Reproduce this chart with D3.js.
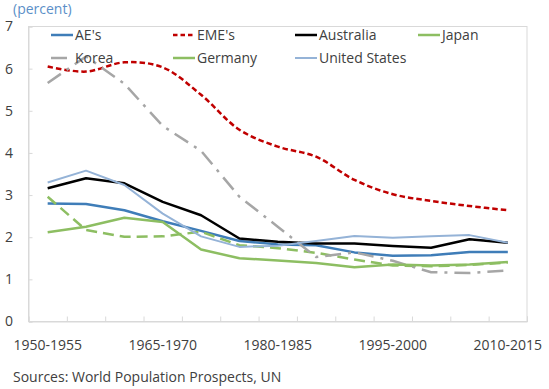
<!DOCTYPE html>
<html>
<head>
<meta charset="utf-8">
<script src="https://cdn.jsdelivr.net/npm/d3@7/dist/d3.min.js"></script>
<style>
  html, body { margin: 0; padding: 0; background: #fff; }
  svg { display: block; }
  text { font-family: "Open Sans", "Noto Sans", sans-serif; }
</style>
</head>
<body>
<svg id="chart" width="549" height="389"></svg>
<script>
// Five-year periods (UN World Population Prospects)
const periods = ["1950-1955", "1955-1960", "1960-1965", "1965-1970", "1970-1975",
  "1975-1980", "1980-1985", "1985-1990", "1990-1995", "1995-2000",
  "2000-2005", "2005-2010", "2010-2015"];
const labeledPeriods = ["1950-1955", "1965-1970", "1980-1985", "1995-2000", "2010-2015"];
const yTicks = [0, 1, 2, 3, 4, 5, 6, 7];

// Total fertility rate, percent
const aes       = [2.80, 2.79, 2.64, 2.38, 2.15, 1.91, 1.83, 1.81, 1.64, 1.56, 1.57, 1.65, 1.65];
const emes      = [6.05, 5.93, 6.15, 6.03, 5.38, 4.55, 4.15, 3.91, 3.36, 3.02, 2.86, 2.74, 2.64];
const australia = [3.16, 3.40, 3.28, 2.84, 2.52, 1.97, 1.89, 1.85, 1.85, 1.79, 1.75, 1.95, 1.87];
const japan     = [2.96, 2.17, 2.01, 2.02, 2.13, 1.81, 1.74, 1.63, 1.47, 1.33, 1.31, 1.34, 1.40];
const korea     = [5.66, 6.29, 5.64, 4.64, 4.05, 2.96, 2.25, 1.53, 1.64, 1.44, 1.17, 1.15, 1.21];
const germany   = [2.12, 2.25, 2.46, 2.36, 1.71, 1.50, 1.45, 1.39, 1.29, 1.35, 1.33, 1.35, 1.41];
const usa       = [3.30, 3.58, 3.24, 2.56, 2.02, 1.77, 1.80, 1.91, 2.03, 1.99, 2.02, 2.05, 1.87];

const seriesNames = ["AE's", "EME's", "Australia", "Japan", "Korea", "Germany", "United States"];
const seriesValues = [aes, emes, australia, japan, korea, germany, usa];

const styles = {
  "AE's":          { color: "#3F7DB8", width: 2.5, dash: null, legendDash: null, smooth: false },
  "EME's":         { color: "#C00000", width: 2.5, dash: "5.5,3", legendDash: "4.5,3", smooth: true },
  "Australia":     { color: "#000000", width: 2.5, dash: null, legendDash: null, smooth: false },
  "Japan":         { color: "#8DBE62", width: 2.5, dash: "11,6", legendDash: null, smooth: false },
  "Korea":         { color: "#A6A6A6", width: 2.5, dash: "16,7,3,7", legendDash: "16,7,3,7", smooth: false },
  "Germany":       { color: "#8DBE62", width: 2.5, dash: null, legendDash: null, smooth: false },
  "United States": { color: "#95B3D7", width: 2, dash: null, legendDash: null, smooth: false }
};

const svg = d3.select("#chart");
const plot = { left: 28.5, right: 527, top: 26.5, bottom: 321.5 };

const x = d3.scaleBand().domain(periods).range([plot.left, plot.right]);
const y = d3.scaleLinear().domain([0, 7]).range([plot.bottom, plot.top]);
const cx = p => x(p) + x.bandwidth() / 2;

const gridColor = "#D9D9D9";
const textColor = "#404040";

// Plot-area frame
svg.append("rect")
  .attr("x", plot.left).attr("y", plot.top)
  .attr("width", plot.right - plot.left).attr("height", plot.bottom - plot.top)
  .attr("fill", "none").attr("stroke", gridColor).attr("stroke-width", 1);

// Y axis: inner ticks, labels to the left
const yAxis = svg.append("g")
  .attr("transform", `translate(${plot.left},0)`)
  .call(d3.axisRight(y).tickValues(yTicks).tickSize(4).tickFormat(""));
yAxis.select(".domain").attr("stroke", gridColor);
yAxis.selectAll(".tick line").attr("stroke", gridColor);

svg.append("g").selectAll("text")
  .data(yTicks).join("text")
  .attr("x", 13).attr("y", d => y(d))
  .attr("dy", "0.35em")
  .attr("text-anchor", "end")
  .attr("font-size", 14)
  .attr("fill", textColor)
  .text(d => d);

// X axis: ticks at period boundaries, pointing up into the plot
const xBoundary = d3.scaleLinear().domain([0, periods.length]).range([plot.left, plot.right]);
const xAxis = svg.append("g")
  .attr("transform", `translate(0,${plot.bottom})`)
  .call(d3.axisTop(xBoundary).tickValues(d3.range(periods.length + 1)).tickSize(5).tickFormat(""));
xAxis.select(".domain").attr("stroke", gridColor);
xAxis.selectAll(".tick line").attr("stroke", gridColor);

svg.append("g").selectAll("text")
  .data(labeledPeriods).join("text")
  .attr("x", d => cx(d)).attr("y", 345)
  .attr("dy", "0.35em")
  .attr("text-anchor", "middle")
  .attr("font-size", 14)
  .attr("fill", textColor)
  .text(d => d);

// Series lines
seriesNames.forEach((name, i) => {
  const st = styles[name];
  const line = d3.line()
    .x((d, j) => cx(periods[j]))
    .y(d => y(d))
    .curve(st.smooth ? d3.curveCatmullRom.alpha(0.5) : d3.curveLinear);
  svg.append("path")
    .datum(seriesValues[i])
    .attr("d", line)
    .attr("fill", "none")
    .attr("stroke", st.color)
    .attr("stroke-width", st.width)
    .attr("stroke-dasharray", st.dash)
    .attr("stroke-linejoin", "round");
});

// Legend: two rows of four columns
const legendCols = [51, 173, 295, 418];
const legendRows = [35, 58];
const legend = svg.append("g");
seriesNames.forEach((name, i) => {
  const st = styles[name];
  const lx = legendCols[i % 4];
  const ly = legendRows[Math.floor(i / 4)];
  legend.append("line")
    .attr("x1", lx).attr("x2", lx + 22)
    .attr("y1", ly).attr("y2", ly)
    .attr("stroke", st.color)
    .attr("stroke-width", st.width)
    .attr("stroke-dasharray", st.legendDash);
  legend.append("text")
    .attr("x", lx + 24).attr("y", ly)
    .attr("dy", "0.35em")
    .attr("font-size", 14)
    .attr("fill", textColor)
    .text(name);
});

// Unit note and source
svg.append("text")
  .attr("x", 13).attr("y", 9)
  .attr("dy", "0.35em")
  .attr("font-size", 14)
  .attr("fill", "#5B8FC8")
  .text("(percent)");

svg.append("text")
  .attr("x", 13).attr("y", 377)
  .attr("dy", "0.35em")
  .attr("font-size", 14)
  .attr("fill", textColor)
  .text("Sources: World Population Prospects, UN");
</script>
</body>
</html>
